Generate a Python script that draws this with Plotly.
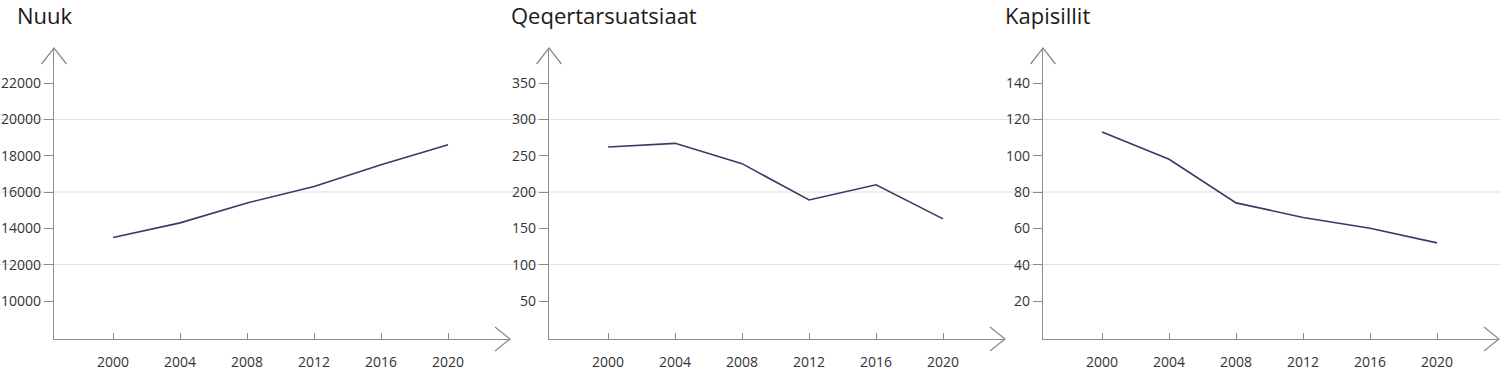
import plotly.graph_objects as go

years = [2000, 2004, 2008, 2012, 2016, 2020]
nuuk = [13500, 14300, 15400, 16300, 17500, 18600]
qeqertarsuatsiaat = [262, 267, 239, 189, 210, 163]
kapisillit = [113, 98, 74, 66, 60, 52]

titles = ["Nuuk", "Qeqertarsuatsiaat", "Kapisillit"]
series = [nuuk, qeqertarsuatsiaat, kapisillit]
ytick_vals = [
    [10000, 12000, 14000, 16000, 18000, 20000, 22000],
    [50, 100, 150, 200, 250, 300, 350],
    [20, 40, 60, 80, 100, 120, 140],
]
grid_vals = [20000, 16000, 12000]
yranges = [[7908, 23927], [-2.3, 398.2], [-0.92, 159.27]]
xrange_ = [1996.47, 2023.7]

W, H = 1500, 370
def X(px):
    return px / W
def Y(py):
    return 1 - py / H

panel_px = [(54, 510), (549, 1005), (1043, 1499)]
top_px, bot_px = 48, 339

AXC = "#8c8c8c"
LINEC = "#3b3868"
FONT = "Open Sans"

fig = go.Figure()
shapes = []
annotations = []
for i, (title, vals) in enumerate(zip(titles, series)):
    n = "" if i == 0 else str(i + 1)
    fig.add_trace(go.Scatter(x=years, y=vals, mode="lines",
                             line=dict(color=LINEC, width=1.6),
                             xaxis="x" + n, yaxis="y" + n,
                             showlegend=False, hoverinfo="x+y"))
    x0, x1 = panel_px[i]
    fig.update_layout(**{
        "xaxis" + n: dict(domain=[X(x0), X(x1)], range=xrange_, anchor="y" + n,
                          tickvals=years, tickformat="d", ticks="inside", ticklen=6, tickcolor=AXC,
                          showline=True, linecolor=AXC, linewidth=1.3,
                          showgrid=False, zeroline=False, ticklabelstandoff=10,
                          tickfont=dict(family=FONT, size=14, color="#333")),
        "yaxis" + n: dict(domain=[Y(bot_px), Y(top_px)], range=yranges[i], anchor="x" + n,
                          tickvals=ytick_vals[i], tickformat="d", ticks="outside", ticklen=9, tickcolor=AXC,
                          showline=True, linecolor=AXC, linewidth=1.3,
                          showgrid=False, zeroline=False,
                          tickfont=dict(family=FONT, size=14, color="#333")),
    })
    # arrowheads
    shapes.append(dict(type="path", xref="paper", yref="paper",
                       path=f"M{X(x0-12.5)},{Y(top_px+16)} L{X(x0)},{Y(top_px)} L{X(x0+12.5)},{Y(top_px+16)}",
                       line=dict(color=AXC, width=1.3)))
    shapes.append(dict(type="path", xref="paper", yref="paper",
                       path=f"M{X(x1-15)},{Y(bot_px-12)} L{X(x1)},{Y(bot_px)} L{X(x1-15)},{Y(bot_px+12)}",
                       line=dict(color=AXC, width=1.3)))
    annotations.append(dict(text=title, xref="paper", yref="paper",
                            x=X([15, 509, 1003][i]), y=Y(15), xanchor="left", yanchor="middle",
                            showarrow=False, font=dict(family=FONT, size=22, color="#1a1a1a")))

for g in grid_vals:
    shapes.append(dict(type="line", xref="paper", yref="y", x0=0, x1=1, y0=g, y1=g,
                       line=dict(color="#dedede", width=1), layer="below"))

fig.update_layout(width=W, height=H, margin=dict(l=0, r=0, t=0, b=0),
                  plot_bgcolor="white", paper_bgcolor="white",
                  shapes=shapes, annotations=annotations)
fig.write_html("out.html", config={"displayModeBar": False},
               post_script="document.body.style.margin='0';document.body.style.overflow='hidden';")
